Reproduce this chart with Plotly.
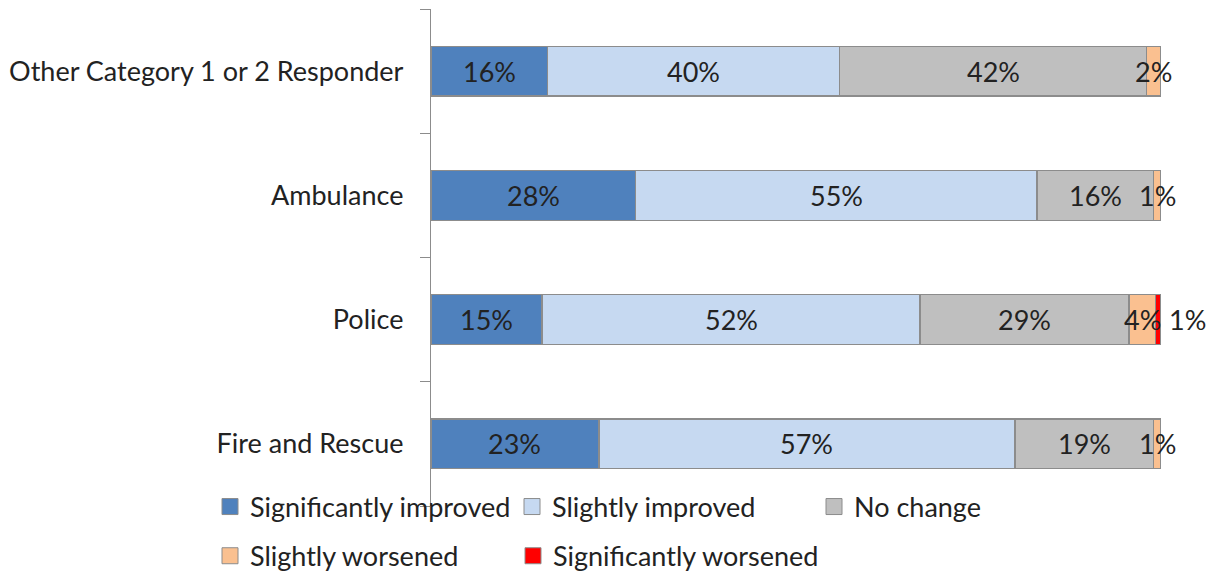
import plotly.graph_objects as go

categories = ["Fire and Rescue", "Police", "Ambulance", "Other Category 1 or 2 Responder"]
series_names = ["Significantly improved", "Slightly improved", "No change",
                "Slightly worsened", "Significantly worsened"]
sig_improved = [23, 15.2, 28, 16]
sli_improved = [57, 51.8, 55, 40]
no_change = [19, 28.6, 16, 42]
sli_worsened = [1, 3.6, 1, 2]
sig_worsened = [0, 0.8, 0, 0]
colors = ["#4F81BD", "#C6D9F1", "#BFBFBF", "#FAC090", "#FF0000"]

series = [sig_improved, sli_improved, no_change, sli_worsened, sig_worsened]
legend_ids = ["legend", "legend", "legend", "legend2", "legend3"]

FONT = "Lato"
FS = 27
EDGE = "#8C8C8C"

fig = go.Figure()
for i, (name, vals, col) in enumerate(zip(series_names, series, colors)):
    fig.add_trace(go.Bar(
        y=categories, x=vals, name=name, orientation="h",
        marker=dict(color=col, line=dict(color=EDGE, width=1.3)),
        showlegend=False, hoverinfo="x+name",
    ))
# legend entries (square swatches)
for name, col, lg in zip(series_names, colors, legend_ids):
    fig.add_trace(go.Scatter(
        x=[None], y=[None], mode="markers", name=name,
        marker=dict(symbol="square", size=16, color=col, line=dict(color=EDGE, width=1)),
        legend=lg, hoverinfo="skip",
    ))

annotations = []
for ci, cat in enumerate(categories):
    start = 0
    total = sum(s[ci] for s in series)
    for si, s in enumerate(series):
        v = s[ci]
        if v > 0:
            if si == 4:
                annotations.append(dict(x=total, y=cat, text=f"{v:.0f}%", showarrow=False,
                                        xanchor="left", xshift=6,
                                        font=dict(family=FONT, size=FS, color="#222")))
            else:
                annotations.append(dict(x=start + v / 2, y=cat, text=f"{v:.0f}%", showarrow=False,
                                        xanchor="center",
                                        font=dict(family=FONT, size=FS, color="#222")))
        start += v

LEG_X = (210 - 431) / 730
LEG_X2 = (513 - 431) / 730
leg_common = dict(orientation="h", xanchor="left", yanchor="middle", traceorder="normal",
                  font=dict(family=FONT, size=FS, color="#222"), bgcolor="rgba(0,0,0,0)")

fig.update_layout(
    width=1212, height=574,
    margin=dict(l=431, r=51, t=9, b=68, autoexpand=False),
    barmode="stack", bargap=0.6,
    plot_bgcolor="white", paper_bgcolor="white",
    font=dict(family=FONT, size=FS, color="#222"),
    annotations=annotations,
    xaxis=dict(range=[0, 100], visible=False, fixedrange=True),
    yaxis=dict(showline=True, linecolor=EDGE, linewidth=1.3,
               ticks="outside", tickson="boundaries", ticklen=10, tickcolor=EDGE,
               tickfont=dict(family=FONT, size=FS, color="#222"),
               ticklabelstandoff=21, showgrid=False, range=[-0.5, 3.5], automargin=False),
    legend=dict(x=LEG_X, y=-0.002, entrywidth=257, entrywidthmode="pixels", **leg_common),
    legend2=dict(x=LEG_X, y=-0.101, **leg_common),
    legend3=dict(x=LEG_X2, y=-0.101, **leg_common),
)

fig.write_html("out.html", config={"displayModeBar": False},
               post_script="document.body.style.margin='0';document.body.style.overflow='hidden';")
